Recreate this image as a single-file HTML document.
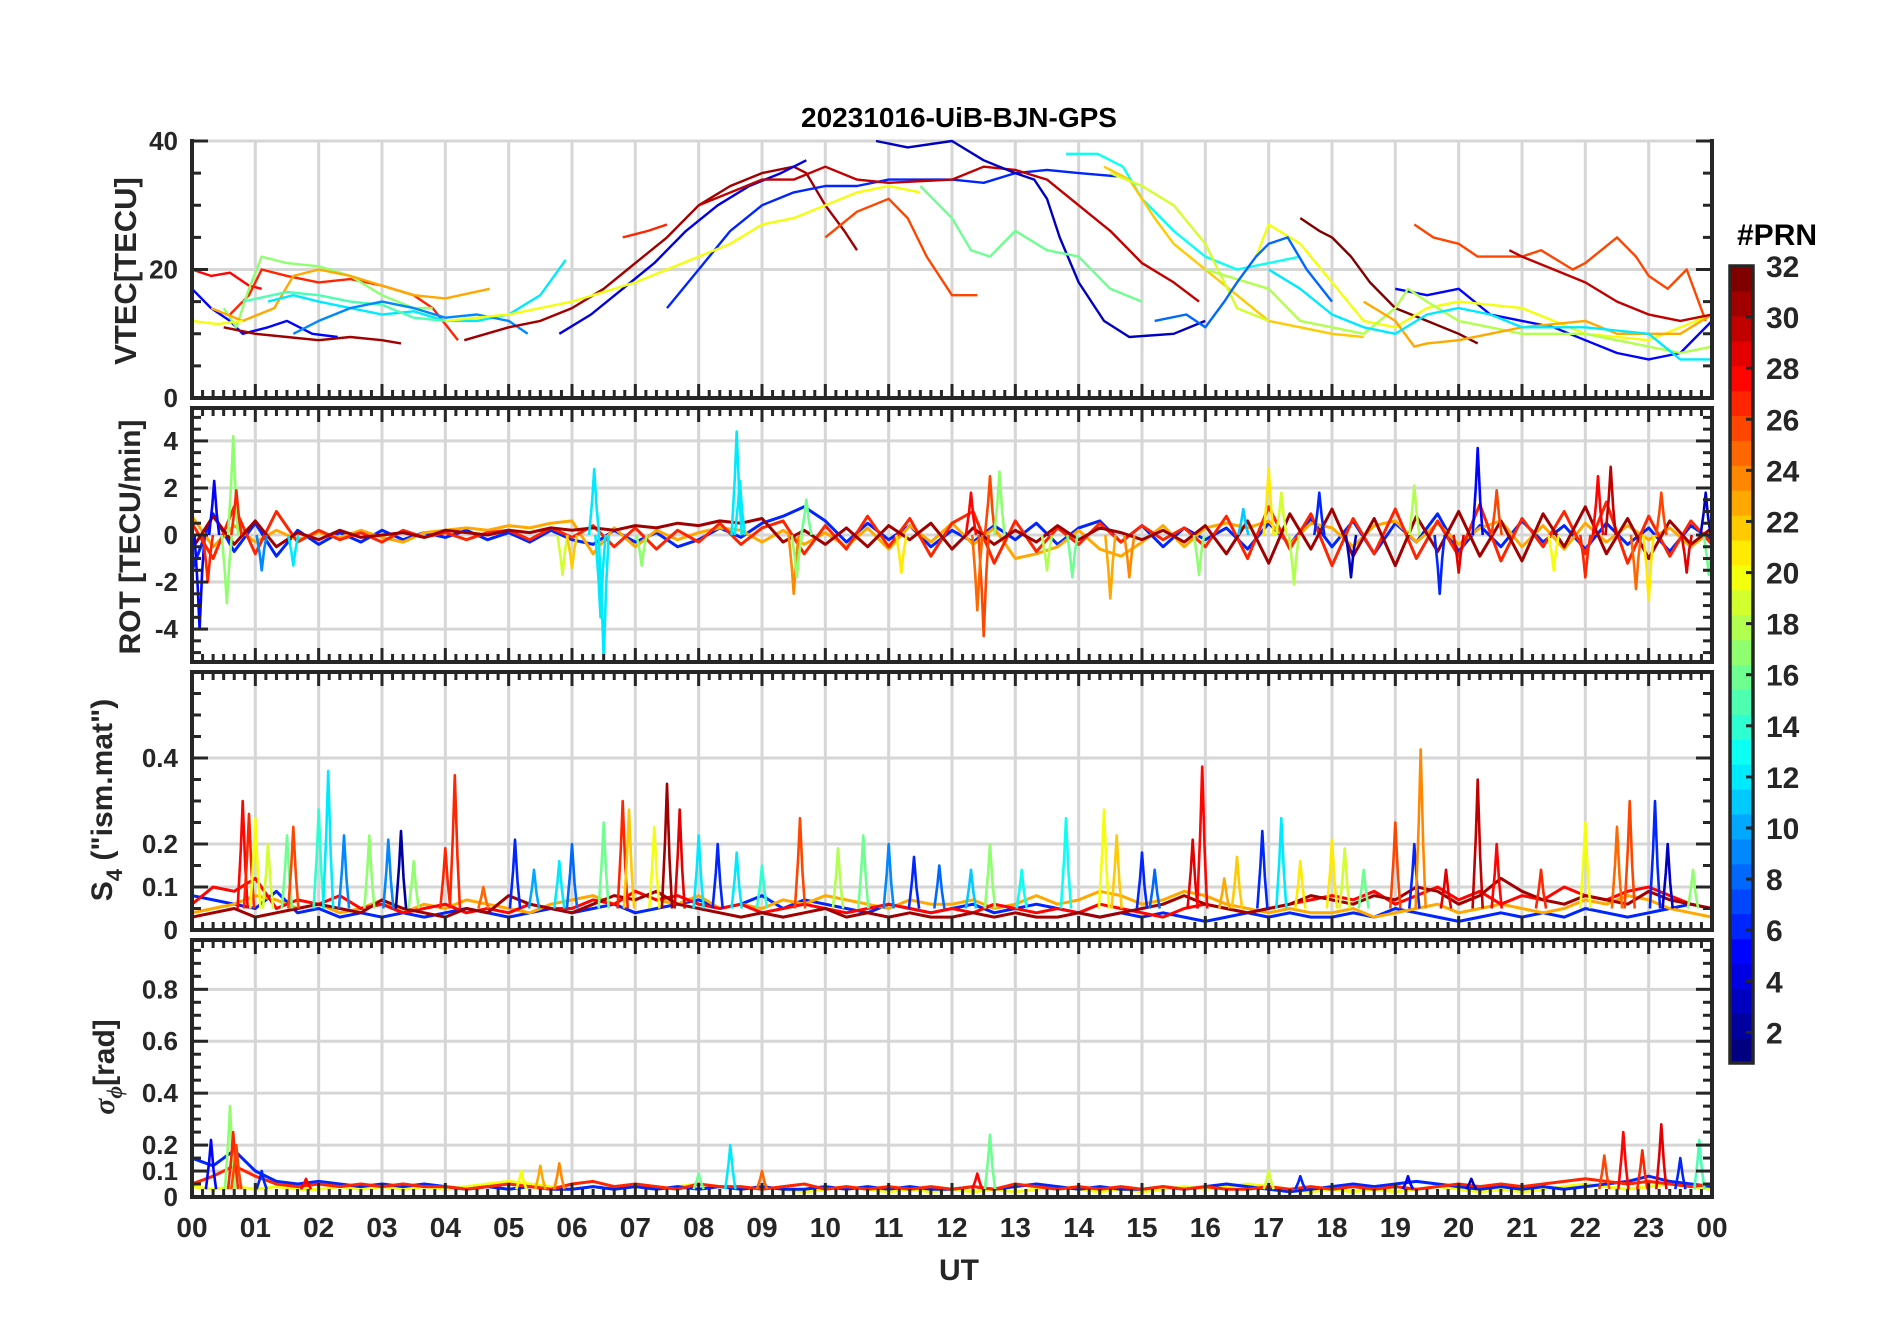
<!DOCTYPE html>
<html><head><meta charset="utf-8"><style>
html,body{margin:0;padding:0;background:#fff;}
svg{display:block;font-family:"Liberation Sans",sans-serif;}
</style></head><body>
<svg id="chart" width="1902" height="1330" viewBox="0 0 1902 1330" xmlns="http://www.w3.org/2000/svg">
<rect width="1902" height="1330" fill="#fff"/>
<text x="959" y="127" font-size="28" font-weight="bold" text-anchor="middle" fill="#000">20231016-UiB-BJN-GPS</text>
<g id="panels"></g>
<text x="959" y="1280" font-size="30" font-weight="bold" text-anchor="middle" fill="#262626">UT</text>
<text transform="translate(136,271) rotate(-90)" font-size="31" font-weight="bold" text-anchor="middle" fill="#262626">VTEC[TECU]</text>
<text transform="translate(140,537) rotate(-90)" font-size="30" font-weight="bold" text-anchor="middle" fill="#262626">ROT [TECU/min]</text>
<text transform="translate(112,800) rotate(-90)" font-size="30" font-weight="bold" text-anchor="middle" fill="#262626">S<tspan font-size="22" dy="10">4</tspan><tspan dy="-10"> ("ism.mat")</tspan></text>
<text transform="translate(114,1067) rotate(-90)" font-size="30" font-weight="bold" text-anchor="middle" fill="#262626"><tspan font-style="italic" font-family="Liberation Serif, serif">σ</tspan><tspan font-size="22" dy="8" font-style="italic" font-family="Liberation Serif, serif">ϕ</tspan><tspan dy="-8">[rad]</tspan></text>
<text x="1737" y="245" font-size="30" font-weight="bold" fill="#000">#PRN</text>
<g id="cbar"></g>
</svg>
<script>
// ---------- data ----------
const hourLabels = ["00","01","02","03","04","05","06","07","08","09","10","11","12","13","14","15","16","17","18","19","20","21","22","23","00"];
const cbarTicks = [2,4,6,8,10,12,14,16,18,20,22,24,26,28,30,32];

const vtecPrn = [28,5,27,17,23,12,15,31,20,9,31,4,6,20,26,30,3,16,13,22,19,26,32,5,20,18,23,12,8,30,27];
const vtecSeries = [
 [[0,20],[0.3,19],[0.6,19.5],[0.9,17.5],[1.1,17]],
 [[0,17],[0.3,14],[0.6,12],[0.8,10],[1.2,11],[1.5,12],[1.9,10],[2.3,9.5]],
 [[0.6,13],[0.9,16],[1.1,20],[1.5,19],[2,18],[2.5,18.5],[3,17.5],[3.5,16],[3.8,14],[4.2,9]],
 [[0.5,14],[0.7,11],[0.9,17],[1.1,22],[1.5,21],[2,20.5],[2.5,19],[3,16],[3.5,14],[3.8,14]],
 [[0.3,14],[0.8,12],[1.3,14],[1.6,19],[2,20],[2.5,19],[3,17.5],[3.5,16],[4,15.5],[4.7,17]],
 [[1.2,15],[1.6,16],[2,15],[2.5,14],[3,13],[3.5,13.5],[4,12],[4.5,12],[5,13],[5.5,16],[5.9,21.5]],
 [[0.8,15],[1.5,16.5],[2,16],[2.5,15],[3,14.5],[3.5,12.5],[4,12]],
 [[0.5,11],[1,10],[1.5,9.5],[2,9],[2.5,9.5],[3,9],[3.3,8.5]],
 [[0,12],[0.4,11.5],[0.8,12]],
 [[1.6,10],[2,12],[2.5,14],[3,15],[3.5,14],[4,12.5],[4.5,13],[5,12],[5.3,10]],
 [[4.3,9],[5,11],[5.5,12],[6,14],[6.5,17],[7,21],[7.5,25],[8,30],[8.5,33],[9,35],[9.5,36],[9.7,35],[10,30],[10.3,26],[10.5,23]],
 [[5.8,10],[6.3,13],[6.8,17],[7.3,21],[7.8,26],[8.3,30],[8.8,33],[9.3,35],[9.7,37]],
 [[7.5,14],[8,20],[8.5,26],[9,30],[9.5,32],[10,33],[10.5,33],[11,34],[11.5,34],[12,34],[12.5,33.5],[13,35],[13.5,35.5],[14,35],[14.6,34.5]],
 [[4,12],[5,13],[6,15],[7,18],[7.5,20],[8,22],[8.5,24],[9,27],[9.5,28],[10,30],[10.5,32],[11,33],[11.5,32]],
 [[10,25],[10.5,29],[11,31],[11.3,28],[11.6,22],[12,16],[12.4,16]],
 [[8,30],[9,34],[9.5,34],[10,36],[10.5,34],[11,33.5],[12,34],[12.5,36],[13,35.5],[13.5,34],[14,30],[14.5,26],[15,21],[15.5,18],[15.9,15]],
 [[10.8,40],[11.3,39],[12,40],[12.5,37],[13,35],[13.3,34],[13.5,31],[13.7,25],[14,18],[14.4,12],[14.8,9.5],[15.5,10],[16,12]],
 [[11.5,33],[12,28],[12.3,23],[12.6,22],[13,26],[13.5,23],[14,22],[14.5,17],[15,15]],
 [[13.8,38],[14.3,38],[14.7,36],[15,31],[15.5,26],[16,22],[16.5,20],[17,21],[17.5,22]],
 [[14.4,36],[14.8,34],[15.2,28],[15.5,24],[16,20],[16.5,16],[17,12],[17.5,11],[18,10],[18.5,9.5]],
 [[14.5,35],[15,33],[15.5,30],[16,24],[16.5,14],[17,12]],
 [[19.3,27],[19.6,25],[20,24],[20.3,22],[21,22],[21.3,23],[21.8,20],[22,21],[22.5,25],[22.8,22],[23,19],[23.3,17],[23.6,20],[23.9,12]],
 [[17.5,28],[17.8,26],[18,25],[18.3,22],[18.6,18],[19,14],[19.5,12],[20,10],[20.3,8.5]],
 [[19,17],[19.5,16],[20,17],[20.5,13],[21,12],[21.5,11],[22,9],[22.5,7],[23,6],[23.5,7],[24,12]],
 [[16.8,22],[17,27],[17.5,24],[18,18],[18.5,12],[19,11],[19.5,14],[20,15],[21,14],[21.5,12],[22,10],[23,9],[23.5,11],[24,13]],
 [[16,20],[17,17],[17.5,12],[18,11],[18.5,10],[19,14],[19.2,17],[19.5,15],[20,12],[20.5,11],[21,10],[22,10],[22.5,9],[23,8],[23.5,7],[24,8]],
 [[18.5,15],[19,12],[19.3,8],[19.5,8.5],[20,9],[21,11],[22,12],[22.5,10],[23,10],[23.5,10],[24,13]],
 [[17,20],[17.5,17],[18,13],[18.5,11],[19,10],[19.5,13],[20,14],[20.5,13],[21,11],[22,11],[23,10],[23.5,6],[24,6]],
 [[15.2,12],[15.7,13],[16,11],[16.3,15],[16.5,18],[16.8,22],[17,24],[17.3,25],[17.6,20],[18,15]],
 [[20.8,23],[21,22],[21.5,20],[22,18],[22.5,15],[23,13],[23.5,12],[24,13]],
 [[6.8,25],[7.2,26],[7.5,27]]
];

const rotPrn = [6,23,27,31];
const rotRed = [0.5,-1.0,1.2,-0.8,1.0,-0.3,0.2,-0.2,0.1,-0.3,0.2,-0.1,0.1,-0.2,0.1,0.2,-0.2,0.3,-0.1,0.4,-0.5,0.3,-0.6,0.2,-0.3,0.5,-0.4,0.3,0.6,-0.8,0.4,-0.6,0.8,-0.5,0.7,-0.9,0.5,1.0,-1.2,0.6,-0.7,0.3,-0.4,0.5,-0.3,0.4,-0.2,0.3,-0.5,0.8,-1.0,1.2,-0.6,0.9,-1.3,0.7,-0.8,1.1,-1.0,0.6,-0.9,1.3,-1.1,0.7,-0.5,1.0,-0.8,1.4,-1.2,0.8,-0.9,0.6,-0.4];
const rotDarkRed = [-0.6,0.8,-0.4,0.6,-0.5,0.1,-0.2,0.2,-0.1,0.0,0.1,-0.1,0.2,0.1,0.0,0.2,0.1,0.3,0.2,0.3,0.2,0.4,0.3,0.5,0.4,0.6,0.5,0.7,-0.3,0.2,-0.4,0.3,-0.5,0.4,-0.2,0.5,-0.6,0.3,-0.4,0.2,-0.3,0.4,-0.2,0.3,0.1,-0.2,0.2,-0.3,0.4,-0.8,0.6,-1.2,0.9,-0.6,1.1,-0.9,0.7,-1.3,0.8,-0.7,1.0,-0.9,0.6,-1.1,0.9,-0.5,1.2,-0.8,0.7,-1.0,0.6,-0.4,0.3];
const rotBlue = [-1.5,0.9,-0.7,0.5,-0.9,0.2,-0.4,0.1,-0.3,0.2,-0.2,0.1,-0.1,0.2,-0.2,0.1,-0.3,0.2,-0.2,-0.4,0.2,-0.3,0.1,-0.5,-0.2,0.3,-0.1,0.5,0.8,1.2,0.6,-0.3,0.5,-0.2,0.4,-0.5,0.2,-0.3,0.4,-0.2,0.5,-0.4,0.3,0.6,-0.3,0.4,-0.5,0.3,-0.2,0.3,-0.6,0.5,-0.4,0.7,-0.5,0.6,-0.8,0.5,-0.3,0.9,-0.7,0.4,-0.5,0.6,-0.3,0.4,-0.6,0.5,-0.4,0.3,-0.7,0.4,-0.2];
const rotOrange = [0.8,-0.5,0.4,-0.3,0.2,-0.2,0.1,-0.1,0.2,-0.1,-0.3,0.1,0.2,0.3,0.2,0.4,0.3,0.5,0.6,-0.8,0.3,-0.5,0.2,-0.2,0.1,0.3,0.2,-0.3,0.2,-0.4,0.1,-0.5,0.3,-0.6,0.4,-0.3,0.5,-0.4,0.3,-1.0,-0.8,-0.5,0.2,-0.6,-0.9,-0.3,0.4,-0.5,0.3,0.5,0.3,0.6,-0.4,0.5,0.3,-0.5,0.4,0.6,-0.3,0.5,-0.4,0.3,0.6,-0.5,0.4,-0.6,0.5,-0.3,0.4,-0.2,0.3,-0.5,0.2];
const rotSpikeT = [0.12,0.35,0.65,0.55,0.25,0.7,1.1,1.6,6.35,6.5,6.45,5.85,6.0,7.1,8.6,8.65,9.5,9.7,9.55,11.2,12.5,12.4,12.6,12.3,12.75,13.5,13.9,14.5,14.8,15.9,16.6,17.0,17.2,17.4,17.8,18.3,19.3,19.7,20.3,20.6,20.0,21.5,22.0,22.2,22.4,22.8,23.0,23.2,23.6,23.9,23.95];
const rotSpikeV = [-4.0,2.3,4.2,-2.9,-2.0,1.9,-1.5,-1.3,2.8,-5.3,-3.5,-1.7,-1.4,-1.3,4.4,2.3,-2.5,1.5,-1.8,-1.6,-4.3,-3.2,2.5,1.8,2.7,-1.5,-1.8,-2.7,-1.8,-1.7,1.1,2.8,1.8,-2.1,1.8,-1.8,2.1,-2.5,3.7,1.9,-1.6,-1.5,-1.8,2.5,2.9,-2.3,-2.8,1.8,-1.6,1.8,-1.7];
const rotSpikePrn = [5,5,17,17,27,27,9,12,12,12,12,19,22,17,12,12,24,16,17,21,26,25,26,28,17,18,16,23,24,17,11,21,19,18,6,3,18,6,5,26,29,20,27,28,30,25,21,26,29,3,16];

const s4Prn = [6,23,28,31];
const s4Red = [.06,.10,.09,.12,.05,.07,.06,.08,.05,.06,.04,.05,.06,.04,.05,.04,.06,.05,.05,.07,.06,.09,.07,.08,.06,.05,.06,.04,.05,.06,.05,.04,.05,.06,.05,.04,.05,.04,.06,.05,.04,.05,.04,.06,.05,.04,.03,.05,.06,.05,.04,.05,.06,.07,.08,.07,.09,.06,.08,.10,.07,.09,.06,.08,.07,.10,.08,.07,.09,.10,.08,.06,.05];
const s4DarkRed = [.03,.04,.05,.03,.04,.05,.06,.05,.04,.07,.05,.04,.03,.05,.04,.08,.06,.05,.04,.06,.08,.07,.09,.06,.05,.04,.03,.04,.03,.04,.05,.03,.04,.03,.04,.03,.03,.04,.03,.04,.03,.03,.04,.03,.04,.05,.06,.08,.06,.05,.04,.05,.06,.08,.07,.06,.08,.07,.10,.09,.06,.08,.12,.09,.07,.06,.08,.07,.06,.09,.07,.06,.05];
const s4Blue = [.08,.07,.06,.05,.09,.04,.05,.03,.04,.03,.04,.03,.04,.05,.04,.03,.04,.05,.04,.05,.06,.04,.05,.06,.07,.05,.06,.08,.05,.07,.06,.05,.04,.06,.05,.04,.05,.06,.04,.05,.06,.05,.04,.03,.04,.03,.04,.03,.02,.03,.04,.03,.04,.03,.03,.04,.03,.05,.04,.03,.02,.03,.04,.03,.04,.03,.05,.04,.03,.04,.05,.06,.05];
const s4Orange = [.04,.05,.06,.08,.07,.05,.06,.04,.05,.07,.04,.06,.05,.07,.06,.05,.04,.06,.07,.08,.06,.09,.07,.06,.08,.05,.06,.05,.07,.06,.08,.07,.06,.05,.07,.06,.06,.07,.05,.06,.08,.06,.07,.09,.08,.06,.07,.09,.08,.06,.05,.04,.05,.04,.04,.05,.03,.04,.05,.06,.04,.05,.06,.05,.04,.05,.07,.06,.08,.07,.05,.04,.03];
const s4SpikeT = [0.8,0.9,1.0,1.2,1.5,1.6,2.0,2.15,2.4,2.8,3.1,3.3,3.5,4.0,4.15,4.6,5.1,5.4,5.8,6.0,6.5,6.8,6.9,7.3,7.5,7.7,8.0,8.3,8.6,9.0,9.6,10.2,10.6,11.0,11.4,11.8,12.3,12.6,13.1,13.8,14.4,14.6,15.0,15.2,15.8,15.95,16.3,16.5,16.9,17.2,17.5,18.0,18.2,18.5,19.0,19.3,19.4,19.8,20.3,20.6,21.3,22.0,22.5,22.7,23.1,23.3,23.7];
const s4SpikeV = [0.30,0.27,0.26,0.20,0.22,0.24,0.28,0.37,0.22,0.22,0.21,0.23,0.16,0.19,0.36,0.10,0.21,0.14,0.16,0.20,0.25,0.30,0.28,0.24,0.34,0.28,0.22,0.20,0.18,0.15,0.26,0.19,0.22,0.20,0.17,0.15,0.14,0.20,0.14,0.26,0.28,0.22,0.18,0.14,0.21,0.38,0.12,0.17,0.23,0.26,0.16,0.21,0.19,0.14,0.25,0.20,0.42,0.14,0.35,0.20,0.14,0.25,0.24,0.30,0.30,0.20,0.14];
const s4SpikePrn = [28,27,20,19,16,26,14,12,9,17,9,2,17,27,27,25,6,10,12,8,16,27,22,20,31,29,12,6,12,14,26,18,16,9,6,8,11,17,13,13,20,22,6,8,29,28,23,22,6,12,21,21,19,16,26,6,24,29,30,28,27,20,25,26,6,3,17];

const sgPrn = [20,6,27];
const sgYellow = [.04,.03,.04,.03,.04,.03,.03,.04,.03,.04,.03,.04,.03,.04,.05,.06,.05,.04,.03,.04,.03,.04,.03,.04,.05,.04,.03,.04,.03,.02,.03,.04,.03,.02,.03,.02,.03,.02,.03,.02,.03,.04,.03,.02,.03,.02,.03,.04,.03,.04,.05,.04,.03,.02,.03,.02,.03,.02,.03,.04,.03,.02,.03,.02,.03,.04,.05,.04,.03,.04,.05,.04,.03];
const sgBlue = [.15,.12,.18,.10,.06,.05,.06,.05,.04,.05,.04,.05,.04,.03,.04,.03,.04,.03,.03,.04,.03,.04,.03,.04,.03,.04,.03,.04,.03,.03,.04,.03,.04,.03,.04,.03,.03,.04,.03,.04,.05,.04,.03,.04,.03,.03,.04,.03,.04,.05,.04,.03,.02,.03,.04,.05,.04,.05,.06,.05,.04,.03,.04,.03,.04,.03,.04,.05,.06,.08,.06,.05,.04];
const sgRed = [.05,.08,.12,.08,.05,.04,.05,.04,.05,.04,.05,.04,.04,.03,.04,.05,.04,.03,.05,.06,.04,.05,.04,.03,.05,.04,.04,.03,.04,.05,.03,.04,.03,.04,.03,.04,.03,.04,.03,.05,.04,.03,.04,.03,.04,.03,.04,.03,.04,.03,.03,.04,.03,.04,.03,.04,.03,.04,.03,.04,.05,.04,.05,.04,.05,.06,.07,.06,.05,.06,.05,.04,.05];
const sgSpikeT = [0.3,0.6,0.65,0.7,1.1,1.8,5.2,5.5,5.8,8.5,8.0,9.0,12.4,12.6,17.0,17.5,19.2,20.2,22.3,22.6,22.9,23.2,23.5,23.8];
const sgSpikeV = [0.22,0.35,0.25,0.20,0.10,0.07,0.10,0.12,0.13,0.20,0.09,0.10,0.09,0.24,0.10,0.08,0.08,0.07,0.16,0.25,0.18,0.28,0.15,0.22];
const sgSpikePrn = [5,17,27,26,6,28,20,23,24,12,16,25,28,16,19,6,5,3,26,28,27,29,6,15];

// ---------- layout ----------
const NS = "http://www.w3.org/2000/svg";
const X0 = 192, X1 = 1712;
const xs = h => X0 + h * (X1 - X0) / 24;
const panels = [
 {name:"vtec", top:141, bot:398, min:0, max:40, labels:[0,20,40], minor:5, topTicks:false},
 {name:"rot", top:408, bot:662, min:-5.4, max:5.4, labels:[-4,-2,0,2,4], minor:0.5, topTicks:true},
 {name:"s4", top:672, bot:930, min:0, max:0.6, labels:[0,0.1,0.2,0.4], minor:0.05, topTicks:true},
 {name:"sigma", top:940, bot:1197, min:0, max:0.99, labels:[0,0.1,0.2,0.4,0.6,0.8], minor:0.05, topTicks:true}
];
function jet(p){
  const v=(p-1)/31;
  const c=t=>Math.round(255*Math.max(0,Math.min(1,1.5-Math.abs(t))));
  return `rgb(${c(4*v-3)},${c(4*v-2)},${c(4*v-1)})`;
}
function mk(tag, attrs, parent){
  const e=document.createElementNS(NS,tag);
  for(const k in attrs) e.setAttribute(k,attrs[k]);
  parent.appendChild(e); return e;
}
const root=document.getElementById("panels");
const defs=mk("defs",{},root);

panels.forEach((P,pi)=>{
  const ys=v=>P.bot-(v-P.min)*(P.bot-P.top)/(P.max-P.min);
  P.ys=ys;
  const g=mk("g",{},root);
  
  
  const cp=mk("clipPath",{id:"clip"+pi},defs);
  mk("rect",{x:X0,y:P.top-2,width:X1-X0,height:P.bot-P.top+2},cp);
  for(let h=1;h<24;h++){
    const l=mk("line",{x1:xs(h),x2:xs(h),y1:P.top,y2:P.bot,stroke:"#d6d6d6","stroke-width":3},g);
    
    
  }
  P.labels.forEach(v=>{
    if(v===P.min) return;
    const l=mk("line",{x1:X0,x2:X1,y1:ys(v),y2:ys(v),stroke:"#d6d6d6","stroke-width":3},g);
    
    
  });
  P.g=g;
});

function drawLine(P,pi,pts,prn,name,w){
  const d=pts.map((p,i)=>(i?"L":"M")+xs(p[0]).toFixed(1)+" "+P.ys(p[1]).toFixed(1)).join("");
  const e=mk("path",{d:d,fill:"none",stroke:jet(prn),"stroke-width":w||2.4,"stroke-linejoin":"round","clip-path":`url(#clip${pi})`},P.g);
  
  
}
function series(arr){ return arr.map((v,i)=>[i/3,v]); }
function spikes(P,pi,T,V,C,base,name){
  T.forEach((t,i)=>{
    const v=V[i];
    drawLine(P,pi,[[t-0.08,base],[t-0.03,base+(v-base)*0.55],[t,v],[t+0.04,base+(v-base)*0.4],[t+0.08,base]],C[i],name,2.6);
  });
}

vtecSeries.forEach((s,i)=>drawLine(panels[0],0,s,vtecPrn[i],'vtec-line-prn'+vtecPrn[i],2.4));
[rotBlue,rotOrange,rotRed,rotDarkRed].forEach((a,i)=>drawLine(panels[1],1,series(a),rotPrn[i],'rot-line',3));
spikes(panels[1],1,rotSpikeT,rotSpikeV,rotSpikePrn,0,'rot-spike');
[s4Blue,s4Orange,s4Red,s4DarkRed].forEach((a,i)=>drawLine(panels[2],2,series(a),s4Prn[i],'s4-line',3));
spikes(panels[2],2,s4SpikeT,s4SpikeV,s4SpikePrn,0.05,'s4-spike');
[sgYellow,sgBlue,sgRed].forEach((a,i)=>drawLine(panels[3],3,series(a),sgPrn[i],'sigma-line',3));
spikes(panels[3],3,sgSpikeT,sgSpikeV,sgSpikePrn,0.03,'sigma-spike');

panels.forEach((P,pi)=>{
  const g=mk("g",{},root);
  
  
  const col="#262626";
  mk("line",{x1:X0,x2:X0,y1:P.top-2,y2:P.bot+2,stroke:col,"stroke-width":4},g);
  mk("line",{x1:X1,x2:X1,y1:P.top-2,y2:P.bot+2,stroke:col,"stroke-width":4},g);
  mk("line",{x1:X0-2,x2:X1+2,y1:P.bot,y2:P.bot,stroke:col,"stroke-width":4},g);
  if(P.topTicks) mk("line",{x1:X0-2,x2:X1+2,y1:P.top,y2:P.top,stroke:col,"stroke-width":4},g);
  for(let m=0;m<=144;m++){
    const x=xs(m/6), len=(m%6===0)?14:8;
    mk("line",{x1:x,x2:x,y1:P.bot,y2:P.bot-len,stroke:col,"stroke-width":3},g);
    if(P.topTicks) mk("line",{x1:x,x2:x,y1:P.top,y2:P.top+len,stroke:col,"stroke-width":3},g);
  }
  const start=Math.ceil(P.min/P.minor);
  for(let k=start;k*P.minor<=P.max+1e-9;k++){
    const v=k*P.minor, y=P.ys(v);
    const major=P.labels.some(l=>Math.abs(l-v)<1e-9);
    const len=major?16:9;
    mk("line",{x1:X0,x2:X0+len,y1:y,y2:y,stroke:col,"stroke-width":3},g);
    mk("line",{x1:X1,x2:X1-len,y1:y,y2:y,stroke:col,"stroke-width":3},g);
  }
  P.labels.forEach(v=>{
    const t=mk("text",{x:178,y:P.ys(v)+9,"font-size":26,"font-weight":"bold","text-anchor":"end",fill:col},g);
    t.textContent=String(v);
    
    
  });
});
hourLabels.forEach((s,i)=>{
  const t=mk("text",{x:xs(i),y:1237,"font-size":28,"font-weight":"bold","text-anchor":"middle",fill:"#262626"},root);
  t.textContent=s;
  
  
});
const cb=document.getElementById("cbar");
const CT=266, CB=1063, CX=1730, CW=23;
const cy=p=>CT+(32-p)*(CB-CT)/31.2;
for(let p=1;p<=32;p++){
  const h=(CB-CT)/32;
  const r=mk("rect",{x:CX,y:CT+(32-p)*h,width:CW,height:h+0.6,fill:jet(p)},cb);
  
  
}
mk("rect",{x:CX,y:CT,width:CW,height:CB-CT,fill:"none",stroke:"#262626","stroke-width":3.5},cb);
cbarTicks.forEach(p=>{
  mk("line",{x1:CX+CW,x2:CX+CW-7,y1:cy(p),y2:cy(p),stroke:"#262626","stroke-width":3},cb);
  const t=mk("text",{x:1766,y:cy(p)+11,"font-size":30,"font-weight":"bold",fill:"#262626"},cb);
  t.textContent=String(p);
  
  
});
</script>
</body></html>
